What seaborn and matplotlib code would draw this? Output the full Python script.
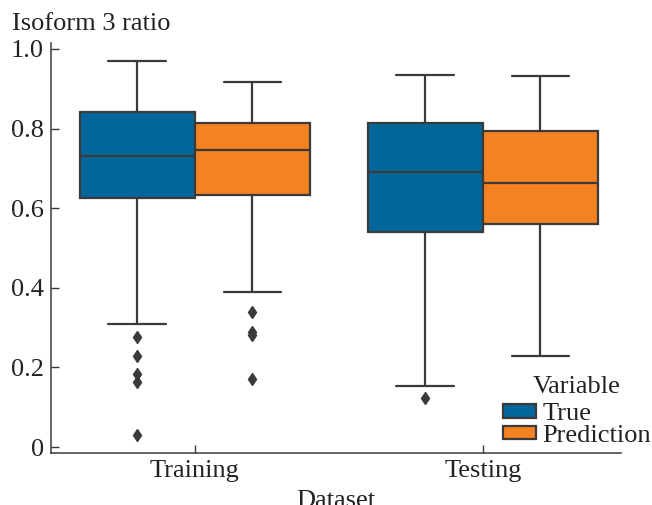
import matplotlib
matplotlib.use("Agg")
import matplotlib.pyplot as plt
import seaborn as sns
import pandas as pd

# box statistics
datasets = ["Training", "Training", "Testing", "Testing"]
variables = ["True", "Prediction", "True", "Prediction"]
whisker_lo = [0.309, 0.389, 0.152, 0.229]
q1 = [0.626, 0.633, 0.541, 0.560]
median = [0.731, 0.746, 0.690, 0.663]
q3 = [0.842, 0.814, 0.815, 0.795]
whisker_hi = [0.970, 0.916, 0.935, 0.932]
outliers = [[0.277, 0.229, 0.183, 0.163, 0.029],
            [0.338, 0.289, 0.281, 0.171],
            [0.124],
            []]

# long table whose quartiles / whiskers reproduce the stats above
rows = []
for i in range(len(datasets)):
    m = len(outliers[i]) + 1
    vals = outliers[i] + [whisker_lo[i]] + [q1[i]] * m + [median[i]] * m + [q3[i]] * m + [whisker_hi[i]]
    for v in vals:
        rows.append({"Dataset": datasets[i], "Variable": variables[i], "ratio": v})
df = pd.DataFrame(rows)

sns.set_style("white")
plt.rcParams["font.family"] = ["Liberation Serif", "DejaVu Serif"]
plt.rcParams["font.size"] = 19

fig = plt.figure(figsize=(6.52, 5.05), dpi=100)
ax = fig.add_axes([0.078, 0.103, 0.8745, 0.812])

sns.boxplot(data=df, x="Dataset", y="ratio", hue="Variable",
            order=["Training", "Testing"], hue_order=["True", "Prediction"],
            palette=["#03669a", "#f58220"], saturation=1, width=0.8, gap=0,
            linecolor="#3a3a3a", linewidth=1.6,
            flierprops={"marker": "d", "markersize": 6.5,
                        "markerfacecolor": "#3a3a3a", "markeredgecolor": "#3a3a3a"},
            ax=ax)

sns.despine(ax=ax)
ax.set_ylim(-0.015, 1.015)
ax.set_xlim(-0.5, 1.48)
ax.set_yticks([0, 0.2, 0.4, 0.6, 0.8, 1.0])
ax.set_yticklabels(["0", "0.2", "0.4", "0.6", "0.8", "1.0"])
ax.tick_params(left=True, bottom=True, direction="in", length=6, width=1,
               color="#3a3a3a", labelcolor="#222222", labelsize=19, pad=5)
for s in ["left", "bottom"]:
    ax.spines[s].set_linewidth(1.1)
    ax.spines[s].set_color("#3a3a3a")

ax.set_ylabel("Isoform 3 ratio", rotation=0, ha="left", va="center", fontsize=19, color="#222222")
ax.yaxis.set_label_coords(-0.068, 1.047)
ax.set_xlabel("Dataset", fontsize=19, labelpad=6, color="#222222")

leg = ax.legend(title="Variable", loc="lower right", bbox_to_anchor=(1.085, -0.03),
                frameon=False, fontsize=19, title_fontsize=19,
                handlelength=1.25, handleheight=0.4, handletextpad=0.25,
                labelspacing=-0.02, borderpad=0.2)
leg._legend_box.sep = 4
for t in leg.get_texts():
    t.set_color("#222222")
leg.get_title().set_color("#222222")

fig.savefig("out.png", dpi=100)
